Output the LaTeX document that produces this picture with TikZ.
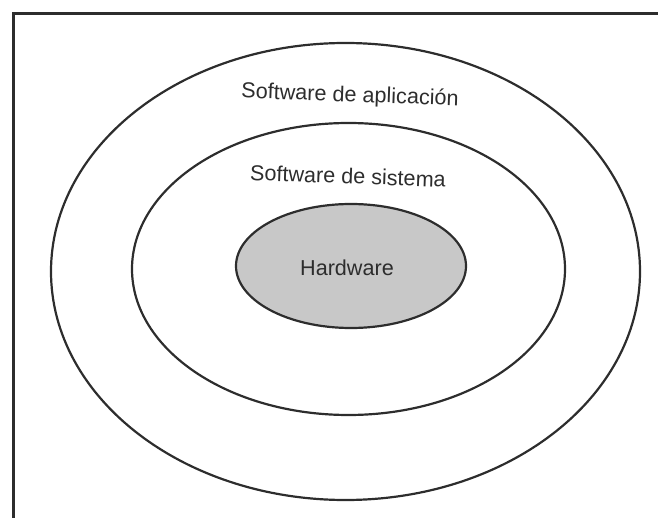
\documentclass[tikz,border=0pt]{standalone}
\usepackage{fontspec}
\setmainfont{Liberation Sans}
\usepackage{tikz}
\usetikzlibrary{positioning}
\definecolor{hwfill}{RGB}{200,200,200}
\definecolor{inkgray}{RGB}{45,45,45}

\begin{document}
\begin{tikzpicture}[x=1pt, y=-1pt,
    ring/.style={draw=inkgray, line width=2.2pt},
    layer/.style={text=inkgray, font=\fontsize{21.6}{24}\selectfont, inner sep=0pt}]

\useasboundingbox (0,0) rectangle (658,518);

% Marco (solo borde izquierdo y superior visibles)
\draw[inkgray, line width=3pt] (13,518) -- (13,14) -- (658,14);

% Capas
\draw[ring] (345.5,271.5) ellipse [x radius=294.5pt, y radius=228.5pt];
\draw[ring] (348.5,269) ellipse [x radius=216.5pt, y radius=146pt];
\draw[ring, fill=hwfill] (351,266) ellipse [x radius=115pt, y radius=62pt];

% Rotulos
\node[layer, rotate=-2] (app) at (350,96) {Software de aplicación};
\node[layer, rotate=-2] (sys) at (348,176) {Software de sistema};
\node[layer] (hw) at (347,268) {Hardware};

\end{tikzpicture}
\end{document}
